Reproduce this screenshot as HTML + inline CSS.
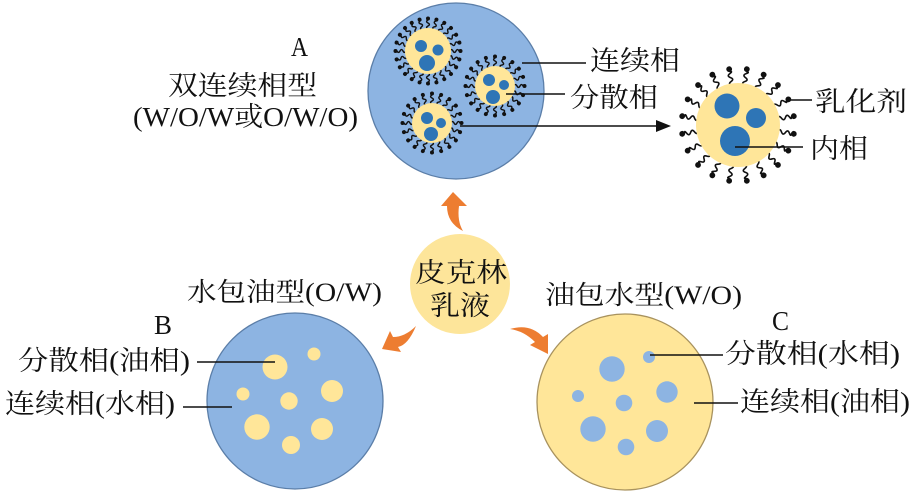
<!DOCTYPE html>
<html><head><meta charset="utf-8"><style>
html,body{margin:0;padding:0;background:#fff;}
svg{display:block;}
text{font-family:"Liberation Serif","Noto Serif CJK SC",serif;fill:#111;}
</style></head><body>
<svg width="917" height="492" viewBox="0 0 917 492" xmlns="http://www.w3.org/2000/svg">
<defs>
<g id="sm"><path d="M0 0 Q1.5 -2.8 3 0 T6 0 T9 0" fill="none" stroke="#111" stroke-width="1.4"/><circle cx="10.5" cy="0" r="2" fill="#111"/></g>
<g id="bm"><path d="M0 0 Q2 -3.8 4 0 T8 0 T12 0 T14 0" fill="none" stroke="#111" stroke-width="1.6"/><circle cx="16.5" cy="0" r="2.9" fill="#111"/></g>
</defs>

<!-- A circle -->
<circle cx="456" cy="91" r="88" fill="#8db4e2" stroke="#5b7ea8" stroke-width="1.3"/>

<!-- droplet 1 -->
<g transform="translate(428 51)">
<use href="#sm" transform="rotate(0) translate(22 0)"/><use href="#sm" transform="rotate(15) translate(22 0)"/><use href="#sm" transform="rotate(30) translate(22 0)"/><use href="#sm" transform="rotate(45) translate(22 0)"/><use href="#sm" transform="rotate(60) translate(22 0)"/><use href="#sm" transform="rotate(75) translate(22 0)"/><use href="#sm" transform="rotate(90) translate(22 0)"/><use href="#sm" transform="rotate(105) translate(22 0)"/><use href="#sm" transform="rotate(120) translate(22 0)"/><use href="#sm" transform="rotate(135) translate(22 0)"/><use href="#sm" transform="rotate(150) translate(22 0)"/><use href="#sm" transform="rotate(165) translate(22 0)"/><use href="#sm" transform="rotate(180) translate(22 0)"/><use href="#sm" transform="rotate(195) translate(22 0)"/><use href="#sm" transform="rotate(210) translate(22 0)"/><use href="#sm" transform="rotate(225) translate(22 0)"/><use href="#sm" transform="rotate(240) translate(22 0)"/><use href="#sm" transform="rotate(255) translate(22 0)"/><use href="#sm" transform="rotate(270) translate(22 0)"/><use href="#sm" transform="rotate(285) translate(22 0)"/><use href="#sm" transform="rotate(300) translate(22 0)"/><use href="#sm" transform="rotate(315) translate(22 0)"/><use href="#sm" transform="rotate(330) translate(22 0)"/><use href="#sm" transform="rotate(345) translate(22 0)"/>
<circle r="23" fill="#ffe699"/>
</g>
<circle cx="421" cy="46" r="6" fill="#2e75b6"/><circle cx="438" cy="50" r="5.5" fill="#2e75b6"/><circle cx="427" cy="63" r="8" fill="#2e75b6"/>

<!-- droplet 2 -->
<g transform="translate(495 86)">
<use href="#sm" transform="rotate(0) translate(19 0)"/><use href="#sm" transform="rotate(18) translate(19 0)"/><use href="#sm" transform="rotate(36) translate(19 0)"/><use href="#sm" transform="rotate(54) translate(19 0)"/><use href="#sm" transform="rotate(72) translate(19 0)"/><use href="#sm" transform="rotate(90) translate(19 0)"/><use href="#sm" transform="rotate(108) translate(19 0)"/><use href="#sm" transform="rotate(126) translate(19 0)"/><use href="#sm" transform="rotate(144) translate(19 0)"/><use href="#sm" transform="rotate(162) translate(19 0)"/><use href="#sm" transform="rotate(180) translate(19 0)"/><use href="#sm" transform="rotate(198) translate(19 0)"/><use href="#sm" transform="rotate(216) translate(19 0)"/><use href="#sm" transform="rotate(234) translate(19 0)"/><use href="#sm" transform="rotate(252) translate(19 0)"/><use href="#sm" transform="rotate(270) translate(19 0)"/><use href="#sm" transform="rotate(288) translate(19 0)"/><use href="#sm" transform="rotate(306) translate(19 0)"/><use href="#sm" transform="rotate(324) translate(19 0)"/><use href="#sm" transform="rotate(342) translate(19 0)"/>
<circle r="20" fill="#ffe699"/>
</g>
<circle cx="489" cy="80" r="6" fill="#2e75b6"/><circle cx="504" cy="85" r="5" fill="#2e75b6"/><circle cx="493" cy="97" r="7" fill="#2e75b6"/>

<!-- droplet 3 -->
<g transform="translate(432 123)">
<use href="#sm" transform="rotate(0) translate(19 0)"/><use href="#sm" transform="rotate(18) translate(19 0)"/><use href="#sm" transform="rotate(36) translate(19 0)"/><use href="#sm" transform="rotate(54) translate(19 0)"/><use href="#sm" transform="rotate(72) translate(19 0)"/><use href="#sm" transform="rotate(90) translate(19 0)"/><use href="#sm" transform="rotate(108) translate(19 0)"/><use href="#sm" transform="rotate(126) translate(19 0)"/><use href="#sm" transform="rotate(144) translate(19 0)"/><use href="#sm" transform="rotate(162) translate(19 0)"/><use href="#sm" transform="rotate(180) translate(19 0)"/><use href="#sm" transform="rotate(198) translate(19 0)"/><use href="#sm" transform="rotate(216) translate(19 0)"/><use href="#sm" transform="rotate(234) translate(19 0)"/><use href="#sm" transform="rotate(252) translate(19 0)"/><use href="#sm" transform="rotate(270) translate(19 0)"/><use href="#sm" transform="rotate(288) translate(19 0)"/><use href="#sm" transform="rotate(306) translate(19 0)"/><use href="#sm" transform="rotate(324) translate(19 0)"/><use href="#sm" transform="rotate(342) translate(19 0)"/>
<circle r="20" fill="#ffe699"/>
</g>
<circle cx="427" cy="118" r="6" fill="#2e75b6"/><circle cx="441" cy="123" r="5" fill="#2e75b6"/><circle cx="431" cy="134" r="7" fill="#2e75b6"/>

<!-- big droplet -->
<g transform="translate(738 125)">
<use href="#bm" transform="rotate(9) translate(40 0)"/><use href="#bm" transform="rotate(27) translate(40 0)"/><use href="#bm" transform="rotate(45) translate(40 0)"/><use href="#bm" transform="rotate(63) translate(40 0)"/><use href="#bm" transform="rotate(81) translate(40 0)"/><use href="#bm" transform="rotate(99) translate(40 0)"/><use href="#bm" transform="rotate(117) translate(40 0)"/><use href="#bm" transform="rotate(135) translate(40 0)"/><use href="#bm" transform="rotate(153) translate(40 0)"/><use href="#bm" transform="rotate(171) translate(40 0)"/><use href="#bm" transform="rotate(189) translate(40 0)"/><use href="#bm" transform="rotate(207) translate(40 0)"/><use href="#bm" transform="rotate(225) translate(40 0)"/><use href="#bm" transform="rotate(243) translate(40 0)"/><use href="#bm" transform="rotate(261) translate(40 0)"/><use href="#bm" transform="rotate(279) translate(40 0)"/><use href="#bm" transform="rotate(297) translate(40 0)"/><use href="#bm" transform="rotate(315) translate(40 0)"/><use href="#bm" transform="rotate(333) translate(40 0)"/><use href="#bm" transform="rotate(351) translate(40 0)"/>
<circle r="42" fill="#ffe699"/>
</g>
<circle cx="727" cy="106" r="12.5" fill="#2e75b6"/><circle cx="756" cy="118" r="10" fill="#2e75b6"/><circle cx="735" cy="141" r="15" fill="#2e75b6"/>

<!-- A lines -->
<g stroke="#111" stroke-width="1.4">
<line x1="522" y1="63" x2="586" y2="63"/>
<line x1="506" y1="94" x2="565" y2="94"/>
<line x1="460" y1="126" x2="657" y2="126"/>
<line x1="790" y1="100" x2="812" y2="100"/>
<line x1="735" y1="147" x2="803" y2="147"/>
</g>
<polygon points="656,120 671,126 656,132" fill="#111"/>

<!-- center circle -->
<circle cx="460" cy="284" r="50" fill="#fde59a"/>

<!-- orange arrows -->
<g fill="#ed7d31">
<path d="M441,206 L453,192 L467,206 L459,206 Q457,221 463,231 Q447,223 447,206 Z"/>
<path d="M416,326 Q408,345 398,347 L401,352 L382,349 L390,331 L393,337 Q405,337 416,326 Z"/>
<path d="M510,329 Q530,323 543,337 L548,334 L548,354 L530,345 L535,342 Q524,331 510,329 Z"/>
</g>

<!-- B circle -->
<circle cx="295" cy="401" r="88" fill="#8db4e2" stroke="#5b7ea8" stroke-width="1.3"/>
<g fill="#ffe699">
<circle cx="275" cy="367" r="12.5"/><circle cx="314" cy="354" r="6.5"/><circle cx="332" cy="391" r="11"/><circle cx="243" cy="394" r="6.5"/><circle cx="289" cy="401" r="8.7"/><circle cx="257" cy="427" r="12.7"/><circle cx="322" cy="429" r="11"/><circle cx="291" cy="445" r="9"/>
</g>

<!-- C circle -->
<circle cx="625" cy="402" r="88" fill="#ffe699" stroke="#a8925e" stroke-width="1.3"/>
<g fill="#8db4e2">
<circle cx="612" cy="369" r="12.7"/><circle cx="649" cy="357" r="6"/><circle cx="667" cy="392" r="10.7"/><circle cx="578" cy="396" r="6"/><circle cx="624" cy="403" r="8.3"/><circle cx="593" cy="429" r="12.7"/><circle cx="657" cy="431" r="11"/><circle cx="626" cy="447" r="8.3"/>
</g>

<g stroke="#111" stroke-width="1.4">
<line x1="197" y1="362" x2="275" y2="362"/>
<line x1="183" y1="407" x2="232" y2="407"/>
<line x1="650" y1="355" x2="723" y2="355"/>
<line x1="694" y1="403" x2="738" y2="403"/>
</g>

<!-- texts -->
<text x="291" y="56" font-size="27" textLength="17" lengthAdjust="spacingAndGlyphs">A</text>
<text x="168" y="95" font-size="27" textLength="149" lengthAdjust="spacingAndGlyphs">双连续相型</text>
<text x="133" y="126" font-size="27" textLength="225" lengthAdjust="spacingAndGlyphs">(W/O/W或O/W/O)</text>
<text x="590" y="70" font-size="27" textLength="90" lengthAdjust="spacingAndGlyphs">连续相</text>
<text x="570" y="107" font-size="27" textLength="88" lengthAdjust="spacingAndGlyphs">分散相</text>
<text x="815" y="111" font-size="27" textLength="92" lengthAdjust="spacingAndGlyphs">乳化剂</text>
<text x="810" y="158" font-size="27" textLength="58" lengthAdjust="spacingAndGlyphs">内相</text>
<text x="415" y="282" font-size="27" textLength="92" lengthAdjust="spacingAndGlyphs">皮克林</text>
<text x="430" y="315" font-size="27" textLength="60" lengthAdjust="spacingAndGlyphs">乳液</text>
<text x="187" y="301" font-size="26" textLength="195" lengthAdjust="spacingAndGlyphs">水包油型(O/W)</text>
<text x="154" y="334" font-size="27" textLength="18" lengthAdjust="spacingAndGlyphs">B</text>
<text x="18" y="370" font-size="27" textLength="172" lengthAdjust="spacingAndGlyphs">分散相(油相)</text>
<text x="5" y="413" font-size="27" textLength="170" lengthAdjust="spacingAndGlyphs">连续相(水相)</text>
<text x="545" y="304" font-size="26" textLength="197" lengthAdjust="spacingAndGlyphs">油包水型(W/O)</text>
<text x="772" y="330" font-size="27" textLength="17" lengthAdjust="spacingAndGlyphs">C</text>
<text x="725" y="363" font-size="27" textLength="175" lengthAdjust="spacingAndGlyphs">分散相(水相)</text>
<text x="740" y="411" font-size="27" textLength="170" lengthAdjust="spacingAndGlyphs">连续相(油相)</text>
</svg>
</body></html>
